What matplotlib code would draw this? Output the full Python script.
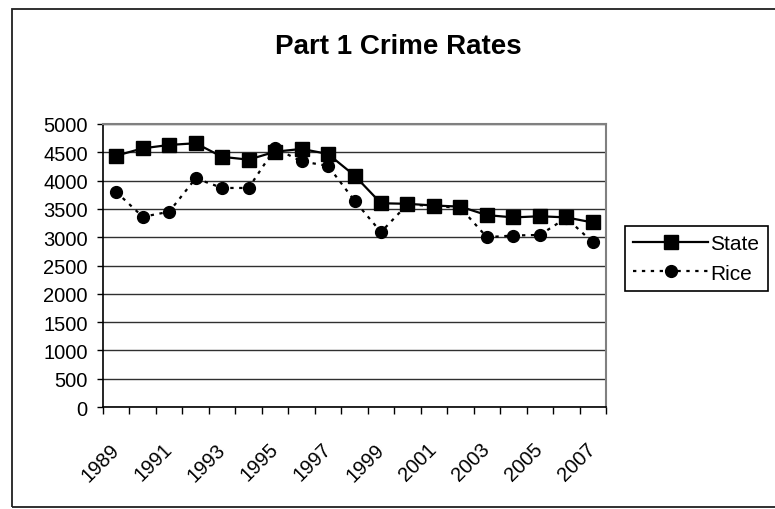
import matplotlib

matplotlib.use("Agg")
import matplotlib.pyplot as plt  # noqa: E402
from matplotlib.patches import Rectangle  # noqa: E402

plt.rcParams["font.family"] = ["Liberation Sans", "DejaVu Sans"]

years = list(range(1989, 2008))
state = [4440, 4570, 4630, 4660, 4420, 4370, 4510, 4560, 4470, 4090,
         3600, 3590, 3560, 3540, 3390, 3350, 3370, 3350, 3260]
rice = [3800, 3360, 3450, 4040, 3870, 3870, 4570, 4340, 4260, 3645,
        3090, 3580, 3550, 3520, 3000, 3030, 3040, 3340, 2910]
y_ticks = list(range(0, 5001, 500))
year_labels = [str(y) for y in years[::2]]

W, H = 775, 510
fig = plt.figure(figsize=(W / 100, H / 100), dpi=100)
ax = fig.add_axes([103 / W, 1 - 408 / H, (606 - 103) / W, (408 - 125) / H])

x = list(range(len(years)))
ax.plot(x, state, color="black", lw=1.6, marker="s", ms=10.5, label="State", zorder=4)
ax.plot(x, rice, color="black", lw=1.6, ls=(0, (1.5, 2.5)), marker="o", ms=8.5,
        label="Rice", zorder=3)

ax.set_xlim(-0.5, len(years) - 0.5)
ax.set_ylim(0, 5000)
ax.set_yticks(y_ticks)
ax.set_yticklabels([str(v) for v in y_ticks], fontsize=14.5)
ax.yaxis.grid(True, color="#303030", lw=1)
ax.set_axisbelow(True)

# tick marks between categories, labels on every other year
ax.set_xticks([i - 0.5 for i in range(len(years) + 1)])
ax.set_xticklabels([])
ax.set_xticks(x[::2], minor=True)
ax.set_xticklabels(year_labels, minor=True, rotation=45, ha="right",
                   va="center", rotation_mode="anchor", fontsize=14.5)
ax.tick_params(axis="x", which="major", direction="out", length=5, width=1)
ax.tick_params(axis="x", which="minor", length=0, pad=28)
ax.tick_params(axis="y", direction="out", length=4, width=1, pad=7)

for side in ("left", "bottom"):
    ax.spines[side].set_color("black")
    ax.spines[side].set_linewidth(1.2)
for side in ("top", "right"):
    ax.spines[side].set_color("#808080")
    ax.spines[side].set_linewidth(1.5)

fig.text(398 / W, 1 - 47 / H, "Part 1 Crime Rates", ha="center", va="center",
         fontsize=20, fontweight="bold")

leg = fig.legend(loc="upper left", bbox_to_anchor=(625 / W, 1 - 227 / H),
                 borderaxespad=0, fontsize=15, handlelength=3.6,
                 handletextpad=0.1, borderpad=0.4, labelspacing=0.5,
                 fancybox=False, edgecolor="black", framealpha=1)
leg.get_frame().set_linewidth(1.2)

# outer chart border
fig.patches.append(Rectangle((12 / W, 2 / H), 1.0, 1 - 12 / H,
                             transform=fig.transFigure, fill=False,
                             edgecolor="#202020", lw=1.3))

fig.savefig("out.png", dpi=100)
